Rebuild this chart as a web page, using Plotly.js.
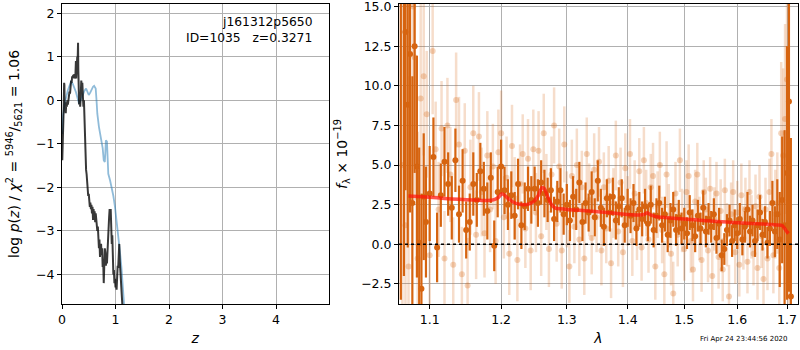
<!DOCTYPE html>
<html>
<head>
<meta charset="utf-8">
<script src="https://cdn.plot.ly/plotly-3.0.1.min.js"></script>
<style>html,body{margin:0;padding:0;background:#fff;}#chart{width:800px;height:350px;}</style>
</head>
<body>
<div id="chart"></div>
<script>
// ---- Left panel: log p(z) ----
const pzBlackZ = [0.005,0.012,0.02,0.03,0.04,0.045,0.05,0.06,0.07,0.08,0.09,0.10,0.11,0.12,0.13,0.14,0.15,0.16,0.17,0.18,0.19,0.20,0.21,0.22,0.23,0.24,0.25,0.26,0.265,0.27,0.28,0.285,0.29,0.30,0.305,0.31,0.315,0.32,0.33,0.34,0.35,0.36,0.37,0.38,0.39,0.40,0.41,0.42,0.43,0.44,0.45,0.46,0.47,0.48,0.49,0.50,0.51,0.52,0.53,0.54,0.55,0.56,0.57,0.58,0.59,0.60,0.61,0.62,0.63,0.64,0.65,0.66,0.67,0.68,0.69,0.70,0.71,0.72,0.73,0.74,0.75,0.76,0.77,0.78,0.79,0.80,0.81,0.82,0.83,0.84,0.85,0.86,0.87,0.88,0.89,0.90,0.91,0.92,0.93,0.94,0.95,0.96,0.97,0.98,0.99,1.00,1.01,1.02,1.03,1.04,1.05,1.06,1.07,1.08,1.09,1.10,1.11,1.12,1.13,1.15];
const pzBlackV = [-1.38,-0.7,-0.3,-0.25,0.4,0.35,-0.25,-0.1,-0.3,-0.05,-0.15,0.0,-0.1,0.05,0.0,0.2,0.15,0.35,0.45,0.4,0.55,0.5,0.58,0.52,0.6,0.5,0.55,0.9,0.5,0.75,0.6,1.0,0.8,1.32,0.7,0.35,0.05,-0.1,0.05,-0.15,0.1,0.45,0.3,0.4,0.1,-0.15,0.0,-0.5,-1.0,-1.3,-1.6,-1.7,-1.9,-2.1,-2.2,-2.15,-2.3,-2.45,-2.35,-2.5,-2.4,-2.6,-2.45,-2.75,-2.5,-2.7,-2.55,-2.8,-2.6,-2.75,-2.7,-3.0,-2.9,-3.1,-3.4,-3.2,-3.6,-3.4,-3.3,-3.55,-3.4,-3.83,-3.7,-4.2,-3.9,-3.4,-3.5,-3.8,-3.6,-3.75,-3.4,-3.05,-2.9,-2.7,-2.5,-2.6,-2.5,-2.9,-3.3,-3.1,-3.8,-4.0,-3.9,-4.2,-4.1,-4.3,-4.2,-4.35,-4.0,-3.8,-3.85,-3.5,-3.3,-3.7,-4.0,-4.3,-4.2,-4.5,-4.75,-5.0];
const pzBlueZ = [0.005,0.02,0.05,0.08,0.11,0.14,0.17,0.20,0.23,0.26,0.29,0.32,0.35,0.39,0.42,0.45,0.48,0.50,0.53,0.55,0.58,0.60,0.62,0.63,0.645,0.66,0.69,0.72,0.74,0.76,0.78,0.80,0.81,0.82,0.84,0.865,0.90,0.93,0.96,0.99,1.02,1.05,1.08,1.11,1.16];
const pzBlueV = [-0.77,-0.35,-0.07,0.1,0.23,0.33,0.42,0.38,0.3,0.19,0.05,-0.08,0.0,0.15,0.22,0.27,0.2,0.12,0.18,0.25,0.31,0.33,0.3,0.27,0.0,-0.31,-0.61,-0.8,-0.92,-1.1,-1.38,-1.42,-1.2,-0.92,-0.95,-1.69,-1.85,-2.0,-2.2,-2.45,-2.75,-3.06,-3.45,-3.83,-4.69];

// ---- Right panel: spectrum ----
const darkLam = [1.062,1.066,1.068,1.071,1.074,1.077,1.080,1.083,1.086,1.089,1.092,1.095,1.100,1.105,1.110,1.115,1.120,1.125,1.130,1.135,1.140,1.145,1.150,1.155,1.160,1.165,1.170,1.175,1.180,1.185,1.190,1.195,1.200,1.205,1.210,1.215,1.220,1.225,1.230,1.235,1.240,1.245,1.250,1.255,1.260,1.265,1.270,1.275,1.280,1.285,1.290,1.295,1.300,1.305,1.310,1.315,1.320,1.325,1.330,1.335,1.340,1.345,1.350,1.355,1.360,1.365,1.370,1.375,1.380,1.385,1.390,1.395,1.400,1.405,1.410,1.415,1.420,1.425,1.430,1.435,1.440,1.445,1.450,1.455,1.460,1.465,1.470,1.475,1.480,1.485,1.490,1.495,1.500,1.505,1.510,1.515,1.520,1.525,1.530,1.535,1.540,1.545,1.550,1.555,1.560,1.565,1.570,1.575,1.580,1.585,1.590,1.595,1.600,1.605,1.610,1.615,1.620,1.625,1.630,1.635,1.640,1.645,1.650,1.655,1.660,1.665,1.670,1.675,1.680,1.685,1.690,1.695,1.700,1.704,1.708];
const darkFlux = [16.5,18.0,13.4,8.8,12.0,2.6,12.5,4.9,0.1,-2.8,3.0,1.4,3.2,5.5,-0.2,3.1,5.2,3.8,2.3,5.3,1.9,4.0,0.9,1.4,3.8,2.8,4.6,3.5,2.1,4.2,-0.1,3.3,4.9,3.4,2.5,3.1,1.8,3.8,1.2,2.4,3.5,2.8,3.5,2.6,3.9,3.2,2.8,3.4,1.6,2.7,3.4,1.9,2.5,1.5,3.0,2.2,3.9,1.4,2.6,2.0,3.3,1.7,4.0,2.3,1.1,2.9,2.0,3.0,1.5,2.4,2.9,1.2,2.3,1.8,2.6,1.0,2.2,1.6,2.4,1.3,2.5,0.9,1.8,2.6,1.2,1.9,0.6,1.5,2.2,0.9,1.7,1.0,1.3,0.7,2.0,1.2,0.5,1.8,1.0,2.3,0.8,1.6,1.1,1.9,0.4,1.3,-0.7,-0.3,0.9,1.5,0.2,1.2,0.7,1.6,0.3,1.1,2.2,0.8,1.5,0.2,1.2,2.0,0.6,1.4,0.1,1.0,2.6,0.8,1.9,0.3,2.8,1.2,4.5,9.0,-3.3];
const darkErr = [20,20,10,9,10,8,8,7,6,6,4,3.5,3,2.5,2.2,2,2.2,2,2,2,1.8,2,1.8,1.8,2,1.7,1.8,1.7,1.8,1.6,1.6,1.6,1.7,1.5,1.6,1.5,1.5,1.6,1.5,1.5,1.4,1.5,1.4,1.5,1.4,1.5,1.4,1.4,1.4,1.3,1.4,1.3,1.3,1.3,1.3,1.3,1.3,1.2,1.3,1.2,1.3,1.2,1.3,1.2,1.2,1.2,1.2,1.2,1.2,1.2,1.2,1.1,1.2,1.1,1.2,1.1,1.1,1.1,1.1,1.1,1.2,1.1,1.1,1.1,1.1,1.1,1.1,1.1,1.1,1.0,1.1,1.0,1.0,1.0,1.1,1.0,1.0,1.0,1.0,1.1,1.0,1.0,1.0,1.0,1.0,1.0,1.0,1.0,1.0,1.0,1.0,1.0,1.0,1.0,1.0,1.0,1.1,1.0,1.0,1.0,1.0,1.1,1.0,1.0,1.0,1.1,1.4,1.6,2.2,3.0,4.0,6.0,8.0,12,10];

const lightLam = [1.064,1.068,1.072,1.078,1.080,1.084,1.088,1.092,1.096,1.100,1.104,1.108,1.112,1.116,1.120,1.124,1.128,1.132,1.136,1.140,1.144,1.148,1.152,1.156,1.160,1.164,1.168,1.172,1.176,1.180,1.184,1.188,1.192,1.196,1.200,1.204,1.208,1.212,1.216,1.220,1.224,1.228,1.232,1.236,1.240,1.244,1.248,1.252,1.256,1.260,1.264,1.268,1.272,1.276,1.280,1.284,1.288,1.292,1.296,1.300,1.304,1.308,1.312,1.316,1.320,1.324,1.328,1.332,1.336,1.340,1.344,1.348,1.352,1.356,1.360,1.364,1.368,1.372,1.376,1.380,1.384,1.388,1.392,1.396,1.400,1.404,1.408,1.412,1.416,1.420,1.424,1.428,1.432,1.436,1.440,1.444,1.448,1.452,1.456,1.460,1.464,1.468,1.472,1.476,1.480,1.484,1.488,1.492,1.496,1.500,1.504,1.508,1.512,1.516,1.520,1.524,1.528,1.532,1.536,1.540,1.544,1.548,1.552,1.556,1.560,1.564,1.568,1.572,1.576,1.580,1.584,1.588,1.592,1.596,1.600,1.604,1.608,1.612,1.616,1.620,1.624,1.628,1.632,1.636,1.640,1.644,1.648,1.652,1.656,1.660,1.664,1.668,1.672,1.676,1.680,1.684,1.688,1.692,1.696,1.700,1.704];
const lightFlux = [5.0,1.2,-1.4,15.0,11.8,-0.9,9.2,10.6,8.2,-0.7,12.2,6.0,2.2,7.3,-0.9,7.5,4.4,-1.3,9.1,6.3,-1.9,5.9,-2.6,3.6,7.0,0.6,6.8,3.3,0.7,5.6,2.2,4.9,0.2,5.8,7.0,1.7,4.2,-0.6,6.2,2.9,-1.0,3.8,5.7,1.0,5.4,-0.4,6.0,2.0,5.9,0.5,7.0,3.3,-0.3,4.4,7.5,1.3,4.9,-0.4,6.3,2.2,-1.4,4.3,1.1,5.0,0.3,3.6,-0.9,5.7,2.8,0.4,4.7,1.7,5.2,-0.4,3.6,1.0,4.0,-1.2,2.6,5.6,0.8,3.9,-0.5,4.8,2.1,5.7,0.2,3.2,1.1,4.6,-0.2,5.3,2.6,0.3,3.6,4.3,-1.4,2.5,5.0,0.9,-1.9,4.4,1.8,-0.6,-3.1,3.2,0.6,5.3,1.5,-0.3,3.3,4.3,0.2,-1.6,2.7,4.4,1.0,-1.0,3.3,2.2,-0.4,3.5,-2.0,1.6,3.2,-0.8,2.1,-1.6,3.4,0.6,-3.3,1.9,3.3,-0.5,2.0,-1.3,3.1,0.4,2.2,-1.1,3.3,1.1,-0.6,2.4,-1.5,3.0,0.5,-2.2,2.2,-0.9,3.3,5.7,-0.7,1.9,2.6,-1.5,7.0,5.6,7.9,10.4,-1.0];
const lightErr = [14,12,12,10,9,8,6,5,4,3.5,4,3,3,3,3,3,3,3,3,3,3,3,3,3,3,2.8,2.8,2.8,2.8,2.8,2.7,2.7,2.7,2.7,2.7,2.6,2.6,2.6,2.6,2.6,2.6,2.5,2.5,2.5,2.5,2.5,2.5,2.5,2.5,2.5,2.5,2.4,2.4,2.4,2.4,2.4,2.4,2.4,2.4,2.4,2.3,2.3,2.3,2.3,2.3,2.3,2.3,2.3,2.3,2.3,2.3,2.2,2.2,2.2,2.2,2.2,2.2,2.2,2.2,2.2,2.2,2.2,2.2,2.2,2.2,2.2,2.2,2.1,2.1,2.1,2.1,2.1,2.1,2.1,2.1,2.1,2.1,2.1,2.1,2.1,2.1,2.1,2.0,2.0,2.0,2.0,2.0,2.0,2.0,2.0,2.0,2.0,2.0,2.0,2.0,2.0,2.0,2.0,2.0,2.0,2.0,2.0,2.0,2.0,2.0,2.0,2.0,2.0,2.0,2.0,2.0,2.0,2.0,2.0,2.0,2.0,2.0,2.0,2.0,2.0,2.0,2.0,2.0,2.0,2.0,2.0,2.0,2.0,2.0,2.0,2.1,2.2,2.4,2.8,3.2,3.6,4.5,5.5,6,7,8,9,10];

const modelLam = [1.072,1.09,1.11,1.13,1.15,1.17,1.18,1.19,1.196,1.201,1.205,1.21,1.218,1.227,1.235,1.242,1.25,1.256,1.261,1.265,1.27,1.276,1.282,1.29,1.30,1.32,1.34,1.36,1.38,1.40,1.42,1.428,1.434,1.44,1.45,1.46,1.48,1.50,1.52,1.54,1.56,1.58,1.60,1.62,1.64,1.66,1.68,1.69,1.695,1.70,1.703];
const modelFlux = [3.05,3.0,2.93,2.86,2.81,2.77,2.76,2.82,2.95,3.18,3.1,2.9,2.65,2.52,2.5,2.55,2.75,3.1,3.58,3.5,3.0,2.5,2.28,2.24,2.2,2.14,2.08,2.02,1.95,1.88,1.85,1.88,1.98,1.85,1.74,1.7,1.64,1.59,1.54,1.49,1.44,1.40,1.36,1.32,1.29,1.26,1.22,1.18,1.0,0.78,0.68];

const lamTicks = [1.1,1.2,1.3,1.4,1.5,1.6,1.7];
const lamTickText = ['1.1','1.2','1.3','1.4','1.5','1.6','1.7'];
const fluxTicks = [-2.5,0,2.5,5,7.5,10,12.5,15];
const fluxTickText = ['\u22122.5','0.0','2.5','5.0','7.5','10.0','12.5','15.0'];

const orange = 'rgb(214,100,16)';
const font = {family: 'DejaVu Sans', size: 12.5, color: '#000'};

const traces = [
  {x: pzBlueZ, y: pzBlueV, xaxis: 'x', yaxis: 'y', mode: 'lines', line: {color: 'rgba(31,119,180,0.5)', width: 1.8}, hoverinfo: 'skip'},
  {x: pzBlackZ, y: pzBlackV, xaxis: 'x', yaxis: 'y', mode: 'lines', line: {color: 'rgba(0,0,0,0.78)', width: 2}, hoverinfo: 'skip'},
  {x: lightLam, y: lightFlux, xaxis: 'x2', yaxis: 'y2', mode: 'markers',
   marker: {color: 'rgba(214,100,16,0.28)', size: 6, line: {width: 0}},
   error_y: {type: 'data', array: lightErr, visible: true, color: 'rgba(214,100,16,0.22)', thickness: 2.5, width: 0}, hoverinfo: 'skip'},
  {x: darkLam, y: darkFlux, xaxis: 'x2', yaxis: 'y2', mode: 'markers',
   marker: {color: orange, size: 6, line: {width: 0}},
   error_y: {type: 'data', array: darkErr, visible: true, color: orange, thickness: 2.2, width: 0}, hoverinfo: 'skip'},
  {x: modelLam, y: modelFlux, xaxis: 'x2', yaxis: 'y2', mode: 'lines', line: {color: 'rgba(255,20,10,0.72)', width: 3.5, shape: 'spline', smoothing: 0.6}, hoverinfo: 'skip'}
];

const axCommon = {
  showline: true, mirror: true, linecolor: '#000', linewidth: 1,
  ticks: 'outside', ticklen: 4, tickwidth: 1, tickcolor: '#000',
  showgrid: true, gridcolor: '#b0b0b0', gridwidth: 1, zeroline: false,
  tickfont: font, ticklabeloverflow: 'allow'
};

const layout = {
  width: 800, height: 350,
  margin: {l: 62, r: 2, t: 4, b: 46},
  paper_bgcolor: '#fff', plot_bgcolor: '#fff',
  showlegend: false,
  font: font,
  xaxis: Object.assign({}, axCommon, {domain: [0, 0.3621], range: [0, 4.98], tick0: 0, dtick: 1,
    title: {text: '<i>z</i>', font: {family: 'DejaVu Sans', size: 14}, standoff: 7}}),
  yaxis: Object.assign({}, axCommon, {domain: [0, 1], range: [-4.68, 2.21], tick0: 0, dtick: 1,
    title: {text: 'log <i>p</i>(<i>z</i>) / <i>χ</i><sup>2</sup> = <sup>5946</sup>/<sub>5621</sub> = 1.06', font: {family: 'DejaVu Sans', size: 14}, standoff: 13}}),
  xaxis2: Object.assign({}, axCommon, {anchor: 'y2', domain: [0.4579, 1], type: 'log', range: [0.02516, 0.23626],
    tickmode: 'array', tickvals: lamTicks, ticktext: lamTickText,
    title: {text: '<i>λ</i>', font: {family: 'DejaVu Sans', size: 14}, standoff: 7}}),
  yaxis2: Object.assign({}, axCommon, {anchor: 'x2', domain: [0, 1], range: [-3.77, 15.16],
    tickmode: 'array', tickvals: fluxTicks, ticktext: fluxTickText,
    title: {text: '<i>f</i><sub>λ</sub> × 10<sup>−19</sup>', font: {family: 'DejaVu Sans', size: 14}, standoff: 10}}),
  shapes: [
    {type: 'line', xref: 'x2 domain', yref: 'y2', x0: 0, x1: 1, y0: 0, y1: 0, line: {color: '#000', width: 1.6, dash: 'dot'}, layer: 'above'}
  ],
  annotations: [
    {xref: 'paper', yref: 'paper', x: 0.3420, y: 0.9390, xanchor: 'right', yanchor: 'middle', showarrow: false,
     text: 'j161312p5650', font: {family: 'DejaVu Sans', size: 12.3, color: '#000'}},
    {xref: 'paper', yref: 'paper', x: 0.3420, y: 0.8873, xanchor: 'right', yanchor: 'middle', showarrow: false,
     text: 'ID=1035\u00a0\u00a0\u00a0z=0.3271', font: {family: 'DejaVu Sans', size: 12.3, color: '#000'}},
    {xref: 'paper', yref: 'paper', x: 0.9273, y: -0.1167, xanchor: 'center', yanchor: 'middle', showarrow: false,
     text: 'Fri Apr 24 23:44:56 2020', font: {family: 'DejaVu Sans', size: 7, color: '#000'}}
  ]
};

Plotly.newPlot('chart', traces, layout, {staticPlot: true, displayModeBar: false});
</script>
</body>
</html>
